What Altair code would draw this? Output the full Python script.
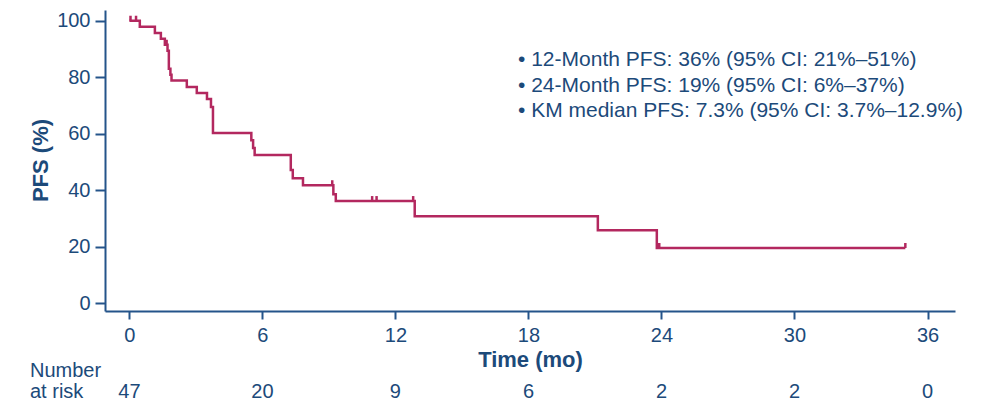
import altair as alt
import pandas as pd

# Kaplan-Meier step points (time in months, PFS %)
km_time = [0, 0.47, 1.15, 1.42, 1.6, 1.72, 1.78, 1.85, 1.9, 2.59, 3.04, 3.5, 3.68, 3.77,
           5.5, 5.58, 5.65, 7.28, 7.37, 7.83, 9.2, 9.31, 12.87, 21.13, 23.79, 35.0]
km_surv = [100, 97.9, 95.7, 93.6, 91.5, 89.4, 83.0, 80.9, 78.9, 76.6, 74.4, 72.3, 69.5, 60.3,
           57.7, 55.0, 52.5, 47.2, 44.3, 41.8, 38.6, 36.2, 30.8, 25.9, 19.6, 19.6]

# censor marks
cens_time = [0.05, 0.3, 1.68, 9.15, 10.95, 11.15, 12.8, 23.9, 35.0]
cens_surv = [100, 100, 91.5, 41.8, 36.2, 36.2, 36.2, 19.6, 19.6]

# number at risk
risk_time = [0, 6, 12, 18, 24, 30, 36]
risk_n = [47, 20, 9, 6, 2, 2, 0]

x_ticks = [0, 6, 12, 18, 24, 30, 36]
y_ticks = [0, 20, 40, 60, 80, 100]

notes = [
    "\u2022 12-Month PFS: 36% (95% CI: 21%\u201351%)",
    "\u2022 24-Month PFS: 19% (95% CI: 6%\u201337%)",
    "\u2022 KM median PFS: 7.3% (95% CI: 3.7%\u201312.9%)",
]
risk_title = "Number\nat risk"

AXIS = "#24548a"
TEXT = "#1c4a7a"
LINE = "#b3285f"
FONT = "Liberation Sans"

xs = alt.Scale(domain=[-1.1, 37.24], nice=False, zero=False)
ys = alt.Scale(domain=[-2.7, 103.8], nice=False, zero=False)

km = pd.DataFrame({"t": km_time, "s": km_surv})
cens = pd.DataFrame({"t": cens_time, "s": cens_surv})
risk = pd.DataFrame({"t": risk_time, "n": risk_n})
single = pd.DataFrame({"notes": ["\n".join(notes)], "label": [risk_title]})

line = alt.Chart(km).mark_line(
    interpolate="step-after", color=LINE, strokeWidth=2.5
).encode(
    x=alt.X("t:Q", scale=xs,
            axis=alt.Axis(values=x_ticks, title="Time (mo)", tickSize=8,
                          labelPadding=6, titleY=48, titleBaseline="middle")),
    y=alt.Y("s:Q", scale=ys,
            axis=alt.Axis(values=y_ticks, title="PFS (%)", tickSize=10,
                          labelPadding=5, titleX=-65, titleY=150,
                          titleAngle=270, titleBaseline="middle")),
)

ticks = alt.Chart(cens).mark_rule(color=LINE, strokeWidth=2.5, y2Offset=-5).encode(
    x=alt.X("t:Q", scale=xs),
    y=alt.Y("s:Q", scale=ys),
    y2=alt.Y2("s:Q"),
)

risk_text = alt.Chart(risk).mark_text(
    font=FONT, fontSize=20, color=TEXT, baseline="alphabetic", align="center"
).encode(
    x=alt.X("t:Q", scale=xs),
    y=alt.value(388),
    text="n:Q",
)

risk_label = alt.Chart(single).mark_text(
    font=FONT, fontSize=20, color=TEXT, baseline="alphabetic", align="left",
    lineBreak="\n", lineHeight=21.5
).encode(
    x=alt.value(-75),
    y=alt.value(366.7),
    text="label:N",
)

note_text = alt.Chart(single).mark_text(
    font=FONT, fontSize=21, color=TEXT, baseline="alphabetic", align="left",
    lineBreak="\n", lineHeight=25.5
).encode(
    x=alt.value(413),
    y=alt.value(56),
    text="notes:N",
)

chart = alt.layer(line, ticks, risk_text, risk_label, note_text).properties(
    width=850, height=301,
    autosize=alt.AutoSizeParams(type="none"),
    padding={"left": 97, "top": 2, "right": 20, "bottom": 90},
).configure_view(stroke=None).configure_axis(
    grid=False,
    domainColor=AXIS, domainWidth=2,
    tickColor=AXIS, tickWidth=2,
    labelColor=TEXT, labelFont=FONT, labelFontSize=20,
    titleColor=TEXT, titleFont=FONT, titleFontSize=22, titleFontWeight="bold",
).configure_text(font=FONT)

chart.save("out.html", embed_options={"renderer": "svg", "actions": False})
